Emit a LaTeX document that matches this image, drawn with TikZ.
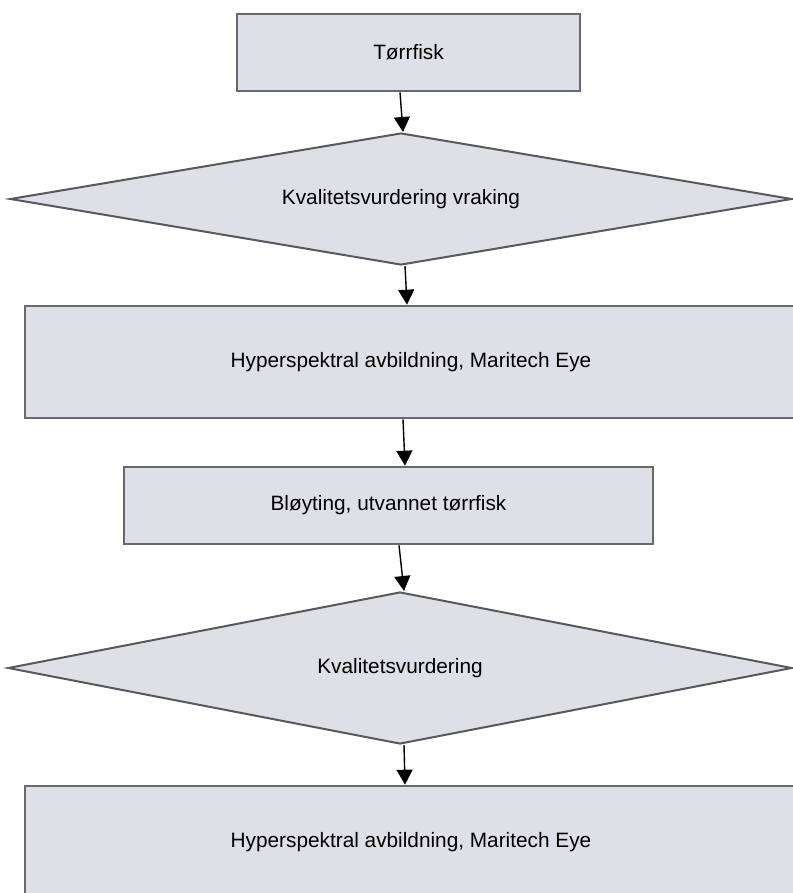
\documentclass[tikz,border=0pt]{standalone}
\usepackage{fontspec}
\setmainfont{Liberation Sans}
\usetikzlibrary{shapes.geometric,arrows.meta}
\definecolor{boxfill}{RGB}{223,223,231}
\definecolor{boxline}{RGB}{104,104,110}
\definecolor{dialine}{RGB}{88,88,94}
\tikzset{
  procbox/.style={draw=boxline, line width=2.6pt, fill=boxfill, inner sep=0pt,
    font=\fontsize{20.8}{25}\selectfont},
  decbox/.style={diamond, draw=dialine, line width=2pt, fill=boxfill, inner sep=0pt,
    font=\fontsize{20.8}{25}\selectfont},
  flow/.style={line width=1.4pt, -{Triangle[length=15pt,width=16pt]}}
}
\begin{document}
\begin{tikzpicture}[x=1pt,y=-1pt]
\useasboundingbox (0,0) rectangle (792,893);
\node[procbox, minimum width=343pt, minimum height=77pt] (b1) at (408.5,52.5) {Tørrfisk};
\node[decbox, minimum width=782pt, minimum height=132pt, aspect=5.9] (d1) at (401,199) {Kvalitetsvurdering vraking};
\node[procbox, minimum width=772pt, minimum height=112pt] (b2) at (411,362) {Hyperspektral avbildning, Maritech Eye};
\node[procbox, minimum width=529pt, minimum height=77pt] (b3) at (388.5,505.5) {Bløyting, utvannet tørrfisk};
\node[decbox, minimum width=784pt, minimum height=152pt, aspect=5.2] (d2) at (400,668) {Kvalitetsvurdering};
\node[procbox, minimum width=772pt, minimum height=112pt] (b4) at (411,842) {Hyperspektral avbildning, Maritech Eye};
\draw[flow] ([xshift=-8.5pt]b1.south) -- ([xshift=2pt]d1.north);
\draw[flow] ([xshift=4pt]d1.south) -- ([xshift=-4pt]b2.north);
\draw[flow] ([xshift=-8pt]b2.south) -- ([xshift=16.5pt]b3.north);
\draw[flow] ([xshift=10.5pt]b3.south) -- ([xshift=4pt]d2.north);
\draw[flow] ([xshift=4pt]d2.south) -- ([xshift=-6pt]b4.north);
\end{tikzpicture}
\end{document}
